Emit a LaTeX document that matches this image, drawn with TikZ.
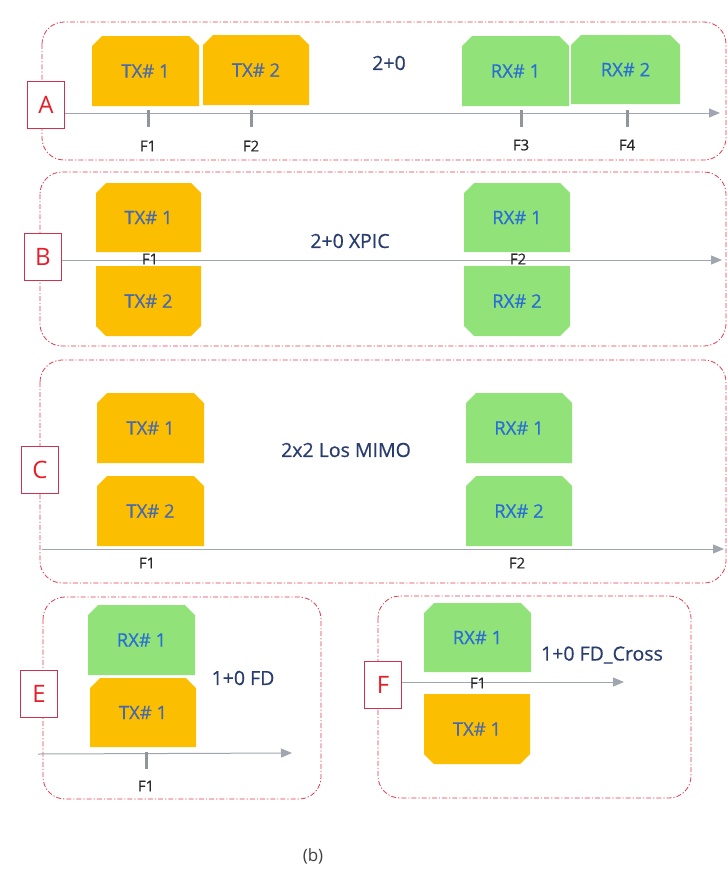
\documentclass[tikz,border=0pt]{standalone}
\usepackage{fontspec}
\setmainfont{Open Sans}
\newfontfamily\semib{Open Sans}[FakeBold=0.6]
\usetikzlibrary{arrows.meta}
\definecolor{txfill}{RGB}{251,190,0}
\definecolor{rxfill}{RGB}{146,226,122}
\definecolor{txtext}{RGB}{70,105,175}
\definecolor{rxtext}{RGB}{40,110,215}
\definecolor{titletext}{RGB}{40,60,110}
\definecolor{framered}{RGB}{225,60,80}
\definecolor{lblborder}{RGB}{205,50,80}
\definecolor{lblred}{RGB}{230,30,40}
\definecolor{axisgray}{RGB}{160,166,175}
\definecolor{tickgray}{RGB}{145,150,155}
\definecolor{flabel}{RGB}{40,40,40}
\tikzset{
  frame/.style={draw=framered, line width=0.8pt, rounded corners=22pt,
    dash pattern=on 5pt off 2pt on 1.2pt off 2pt},
  letterbox/.style={draw=lblborder, line width=0.8pt, fill=white, text=lblred,
    minimum width=37pt, minimum height=47pt, inner sep=0pt, font=\fontsize{24}{26}\selectfont},
  unittext/.style={inner sep=0pt, font=\semib\fontsize{18.5}{20}\selectfont},
  title/.style={inner sep=0pt, text=titletext, font=\semib\fontsize{19.5}{21}\selectfont},
  flbl/.style={inner sep=0pt, text=flabel, font=\semib\fontsize{15}{17}\selectfont},
  axis/.style={draw=axisgray, line width=1pt, -{Triangle[length=11pt,width=9pt]}},
  tick/.style={draw=tickgray, line width=3pt},
}
% #1 name, #2 left, #3 top, #4 right, #5 bottom, #6 fill, #7 text colour, #8 text, #9 chamfer side (t or b)
\newcommand\unitbox[9]{%
  \if#9t
    \fill[#6] ({#2+10},#3) -- ({#4-10},#3) -- (#4,{#3+10}) -- (#4,#5) -- (#2,#5) -- (#2,{#3+10}) -- cycle;
  \else
    \fill[#6] (#2,#3) -- (#4,#3) -- (#4,{#5-10}) -- ({#4-10},#5) -- ({#2+10},#5) -- (#2,{#5-10}) -- cycle;
  \fi
  \node[unittext, text=#7] (#1) at ({(#2+#4)/2},{(#3+#5)/2}) {#8};%
}
\begin{document}
\begin{tikzpicture}[x=1pt,y=-1pt]
\useasboundingbox[fill=white] (0,0) rectangle (728,870);

% ---------------- Panel A ----------------
\draw[frame] (42,22) rectangle (726,160);
\unitbox{atx1}{92}{36}{199}{106}{txfill}{txtext}{TX\# 1}{t}
\unitbox{atx2}{203}{35}{309}{105}{txfill}{txtext}{TX\# 2}{t}
\unitbox{arx1}{462}{36}{569}{106}{rxfill}{rxtext}{RX\# 1}{t}
\unitbox{arx2}{571}{35}{680}{104}{rxfill}{rxtext}{RX\# 2}{t}
\node[title] (atitle) at (389,63) {2+0};
\node[letterbox] (A) at (46,105) {A};
\coordinate (aend) at (720,113);
\draw[axis] (A.east |- aend) -- (aend);
\draw[tick] (148,110) -- (148,127); \node[flbl] (af1) at (148,146) {F1};
\draw[tick] (251,110) -- (251,127); \node[flbl] (af2) at (251,146) {F2};
\draw[tick] (521,110) -- (521,127); \node[flbl] (af3) at (521,145) {F3};
\draw[tick] (627,110) -- (627,127); \node[flbl] (af4) at (627,145) {F4};

% ---------------- Panel B ----------------
\draw[frame] (40,172) rectangle (726,346);
\unitbox{btx1}{96}{183}{201}{252}{txfill}{txtext}{TX\# 1}{t}
\unitbox{btx2}{96}{266}{201}{336}{txfill}{txtext}{TX\# 2}{b}
\unitbox{brx1}{464}{183}{570}{252}{rxfill}{rxtext}{RX\# 1}{t}
\unitbox{brx2}{464}{266}{570}{336}{rxfill}{rxtext}{RX\# 2}{b}
\node[title] (btitle) at (350,241) {2+0 XPIC};
\node[letterbox] (B) at (43,257) {B};
\coordinate (bend) at (722,260);
\draw[axis] (B.east |- bend) -- (bend);
\node[flbl] (bf1) at (150,259) {F1};
\node[flbl] (bf2) at (518,259) {F2};

% ---------------- Panel C ----------------
\draw[frame] (40,360) rectangle (726,583);
\unitbox{ctx1}{97}{393}{204}{463}{txfill}{txtext}{TX\# 1}{t}
\unitbox{ctx2}{97}{476}{204}{546}{txfill}{txtext}{TX\# 2}{t}
\unitbox{crx1}{466}{393}{572}{463}{rxfill}{rxtext}{RX\# 1}{t}
\unitbox{crx2}{466}{476}{572}{546}{rxfill}{rxtext}{RX\# 2}{t}
\node[title] (ctitle) at (346,450) {2x2 Los MIMO};
\node[letterbox] (C) at (40,470) {C};
\coordinate (cstart) at (42,549);
\coordinate (cend) at (724,549);
\draw[axis] (cstart) -- (cend);
\node[flbl] (cf1) at (147,563) {F1};
\node[flbl] (cf2) at (517,563) {F2};

% ---------------- Panel E ----------------
\draw[frame] (43,597) rectangle (321,799);
\unitbox{erx1}{88}{605}{195}{675}{rxfill}{rxtext}{RX\# 1}{t}
\unitbox{etx1}{90}{678}{196}{747}{txfill}{txtext}{TX\# 1}{t}
\node[title] (etitle) at (243,678) {1+0 FD};
\node[letterbox] (E) at (39,694) {E};
\coordinate (estart) at (38,754);
\coordinate (eend) at (292,753);
\draw[axis] (estart) -- (eend);
\draw[tick] (146,752) -- (146,769); \node[flbl] (ef1) at (146,786) {F1};

% ---------------- Panel F ----------------
\draw[frame] (378,596) rectangle (691,798);
\unitbox{frx1}{424}{603}{531}{672}{rxfill}{rxtext}{RX\# 1}{t}
\unitbox{ftx1}{424}{694}{530}{764}{txfill}{txtext}{TX\# 1}{b}
\node[title] (ftitle) at (602,655) {1+0 FD\_Cross};
\node[letterbox] (F) at (383,685) {F};
\coordinate (fend) at (624,682);
\draw[axis] (F.east |- fend) -- (fend);
\node[flbl] (ff1) at (478,683) {F1};

% caption
\node[inner sep=0pt, text=black!75, font=\fontsize{17}{19}\selectfont] (cap) at (313,856) {(b)};
\end{tikzpicture}
\end{document}
